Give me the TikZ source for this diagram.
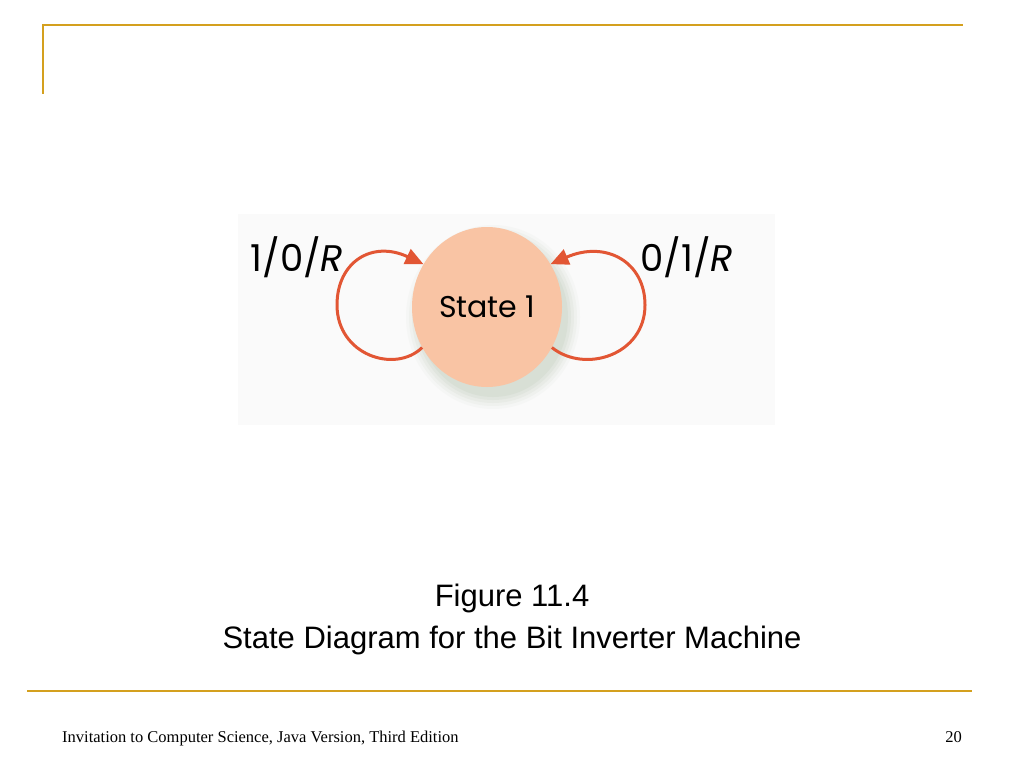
\documentclass[tikz,border=0pt]{standalone}
\usepackage{fontspec}
\setmainfont{Liberation Serif}
\newfontfamily\capfont{Liberation Sans}
\newfontfamily\labfont{Poppins}
\usetikzlibrary{shapes.geometric,arrows.meta}
\definecolor{gold}{RGB}{212,160,30}
\definecolor{peach}{RGB}{249,196,164}
\definecolor{loopred}{RGB}{226,86,52}
\definecolor{shadowcol}{RGB}{196,206,190}
\tikzset{
  rule/.style={draw=gold, line width=2.2pt},
  loopline/.style={draw=loopred, line width=3pt, -{Triangle[length=18pt,width=16pt]}},
  lab/.style={font=\labfont\fontsize{37}{42}\selectfont, inner sep=0pt},
  captext/.style={font=\capfont\fontsize{31}{36}\selectfont, inner sep=0pt},
  foot/.style={font=\fontsize{16.5}{19}\selectfont, inner sep=0pt, anchor=base west}
}
\begin{document}
\begin{tikzpicture}[x=1pt,y=-1pt]
\useasboundingbox (0,0) rectangle (1024,768);
\fill[white] (0,0) rectangle (1024,768);
% header rules
\draw[rule] (42,25) -- (963,25);
\draw[draw=gold, line width=1.4pt] (43,25) -- (43,94);
% figure background
\fill[black!2] (238,214) rectangle (775,425);
% shadow
\foreach \o/\a in {12/0.08,9/0.12,6/0.16,3/0.2,0/0.25}{
  \fill[shadowcol, fill opacity=\a] (493,317) ellipse ({75+\o} and {80+\o});
}
\node[ellipse, fill=peach, minimum width=150pt, minimum height=160pt, inner sep=0pt,
      font=\labfont\fontsize{30}{34}\selectfont] (s) at (487,307) {State 1};
% loops
\draw[loopline] (s.212) .. controls (395,374) and (337,355) .. (337,305)
  .. controls (337,262) and (372,240) .. (s.146);
\draw[loopline] (s.-32) .. controls (585,374) and (645,355) .. (645,305)
  .. controls (645,262) and (606,240) .. (s.34);
\node[lab] (l1) at (297,257) {1/0/\textit{R}};
\node[lab] (l2) at (687,257) {0/1/\textit{R}};
% caption
\node[captext] (c1) at (512,598) {Figure 11.4};
\node[captext] (c2) at (512,640) {State Diagram for the Bit Inverter Machine};
% footer
\draw[rule] (27,691) -- (972,691);
\node[foot] (f1) at (62,742) {Invitation to Computer Science, Java Version, Third Edition};
\node[foot, anchor=base east] (f2) at (962,742) {20};
\end{tikzpicture}
\end{document}
